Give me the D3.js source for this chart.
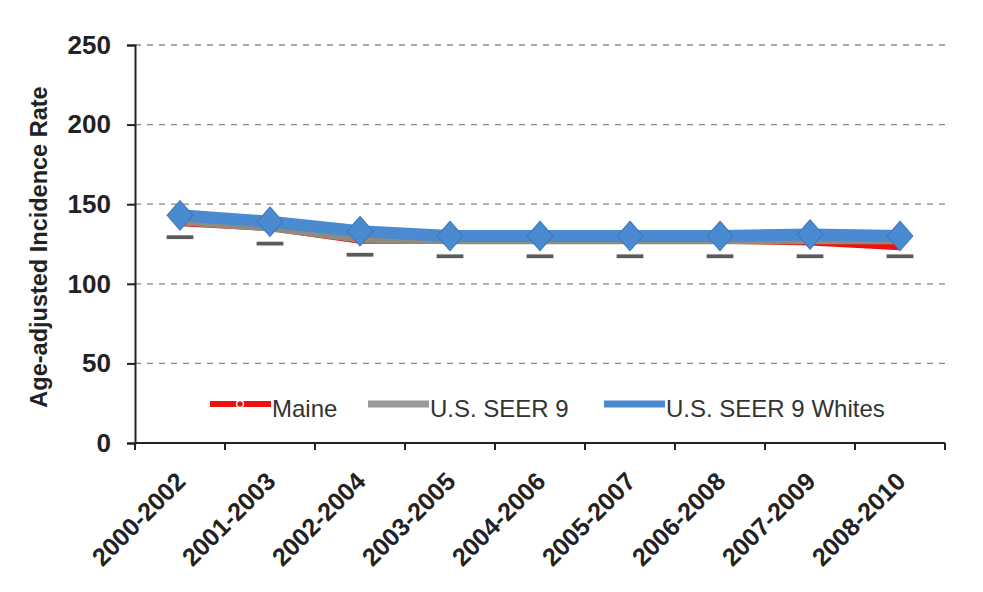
<!DOCTYPE html>
<html>
<head>
<meta charset="utf-8">
<script src="https://cdn.jsdelivr.net/npm/d3@7"></script>
<style>
  html, body { margin: 0; padding: 0; background: #fff; }
  svg { display: block; font-family: "Liberation Sans", Arial, sans-serif; }
</style>
</head>
<body>
<svg id="chart" width="983" height="592"></svg>
<script>
// Three-year periods on the x axis
const periods = ["2000-2002", "2001-2003", "2002-2004", "2003-2005", "2004-2006",
                 "2005-2007", "2006-2008", "2007-2009", "2008-2010"];

// Age-adjusted incidence rates per series
const maine       = [138, 135, 127, 127, 127, 127, 127, 126, 123];
const seer9       = [139, 135, 128, 127, 127, 127, 127, 127, 127];
const seer9Whites = [143, 139, 133, 130, 130, 130, 130, 131, 130];

const yTicks = [0, 50, 100, 150, 200, 250];
const seriesNames = ["Maine", "U.S. SEER 9", "U.S. SEER 9 Whites"];

const svg = d3.select("#chart");
const margin = { left: 135, right: 38, top: 45, bottom: 149 };
const W = 983, H = 592;

const x = d3.scaleBand().domain(periods).range([margin.left, W - margin.right]);
const y = d3.scaleLinear().domain([0, 250]).range([H - margin.bottom, margin.top]);

// Dashed horizontal gridlines
svg.append("g")
  .selectAll("line")
  .data(yTicks.filter(d => d > 0))
  .join("line")
  .attr("x1", margin.left).attr("x2", W - margin.right)
  .attr("y1", d => y(d)).attr("y2", d => y(d))
  .attr("stroke", "#8a8a8a").attr("stroke-width", 1.3)
  .attr("stroke-dasharray", "6,6");

// Y axis
const yAxis = svg.append("g")
  .attr("transform", `translate(${margin.left},0)`)
  .call(d3.axisLeft(y).tickValues(yTicks).tickSize(8).tickPadding(16));
yAxis.select(".domain").attr("stroke", "#222").attr("stroke-width", 2);
yAxis.selectAll(".tick line").attr("stroke", "#222").attr("stroke-width", 2);
yAxis.selectAll("text")
  .attr("font-size", 26).attr("font-weight", "bold").attr("fill", "#222")
  .attr("font-family", "Liberation Sans, Arial, sans-serif");

// X axis with ticks on band edges
const xAxisG = svg.append("g").attr("transform", `translate(0,${y(0)})`);
xAxisG.append("line")
  .attr("x1", margin.left).attr("x2", W - margin.right)
  .attr("y1", 0).attr("y2", 0)
  .attr("stroke", "#222").attr("stroke-width", 2);
const edges = periods.map(p => x(p)).concat([x(periods[periods.length - 1]) + x.bandwidth()]);
xAxisG.selectAll("line.edge")
  .data(edges)
  .join("line")
  .attr("class", "edge")
  .attr("x1", d => d).attr("x2", d => d)
  .attr("y1", 0).attr("y2", 7)
  .attr("stroke", "#222").attr("stroke-width", 2);
xAxisG.selectAll("text")
  .data(periods)
  .join("text")
  .attr("transform", d => `translate(${x(d) + x.bandwidth() / 2 + 7},${40}) rotate(-45)`)
  .attr("text-anchor", "end")
  .attr("font-size", 25).attr("font-weight", "bold").attr("fill", "#222")
  .text(d => d);

// Y axis title
svg.append("text")
  .attr("transform", `translate(47,${(y(0) + y(250)) / 2 + 3}) rotate(-90)`)
  .attr("text-anchor", "middle")
  .attr("font-size", 23.5).attr("font-weight", "bold").attr("fill", "#222")
  .text("Age-adjusted Incidence Rate");

const cx = d => x(d) + x.bandwidth() / 2;
const line = d3.line().x((d, i) => cx(periods[i])).y(d => y(d));

// Maine (red)
svg.append("path").datum(maine)
  .attr("d", line).attr("fill", "none")
  .attr("stroke", "#f01010").attr("stroke-width", 6);

// SEER 9 (gray) with dash markers
svg.append("path").datum(seer9)
  .attr("d", line).attr("fill", "none")
  .attr("stroke", "#918a7e").attr("stroke-width", 7);
svg.append("g").selectAll("rect")
  .data(seer9)
  .join("rect")
  .attr("x", (d, i) => cx(periods[i]) - 14).attr("y", d => y(d) + 13)
  .attr("width", 28).attr("height", 5)
  .attr("fill", "#5a5a5a").attr("stroke", "#fff").attr("stroke-width", 1.2);

// SEER 9 Whites (blue) with diamond markers
svg.append("path").datum(seer9Whites)
  .attr("d", line).attr("fill", "none")
  .attr("stroke", "#4a8ad0").attr("stroke-width", 12)
  .attr("stroke-linejoin", "round");
svg.append("g").selectAll("path")
  .data(seer9Whites)
  .join("path")
  .attr("transform", (d, i) => `translate(${cx(periods[i])},${y(d)}) scale(1,1.15)`)
  .attr("d", d3.symbol().type(d3.symbolDiamond2).size(420))
  .attr("fill", "#4a8ad0").attr("stroke", "#3d78bb").attr("stroke-width", 1);

// Legend
const legendY = 404;
const legend = [
  { name: seriesNames[0], x0: 210, color: "#f01010", w: 6, marker: "dot" },
  { name: seriesNames[1], x0: 368, color: "#9a9a9a", w: 7, marker: "none" },
  { name: seriesNames[2], x0: 604, color: "#4a8ad0", w: 7, marker: "none" }
];
const lg = svg.append("g");
legend.forEach(l => {
  lg.append("line")
    .attr("x1", l.x0).attr("x2", l.x0 + 61)
    .attr("y1", legendY).attr("y2", legendY)
    .attr("stroke", l.color).attr("stroke-width", l.w);
  if (l.marker === "dot") {
    lg.append("circle").attr("cx", l.x0 + 30).attr("cy", legendY).attr("r", 3.5)
      .attr("fill", l.color).attr("stroke", "#fff").attr("stroke-width", 1.5);
  }
  lg.append("text")
    .attr("x", l.x0 + 62).attr("y", legendY + 13)
    .attr("font-size", 24).attr("fill", "#333")
    .text(l.name);
});
</script>
</body>
</html>
